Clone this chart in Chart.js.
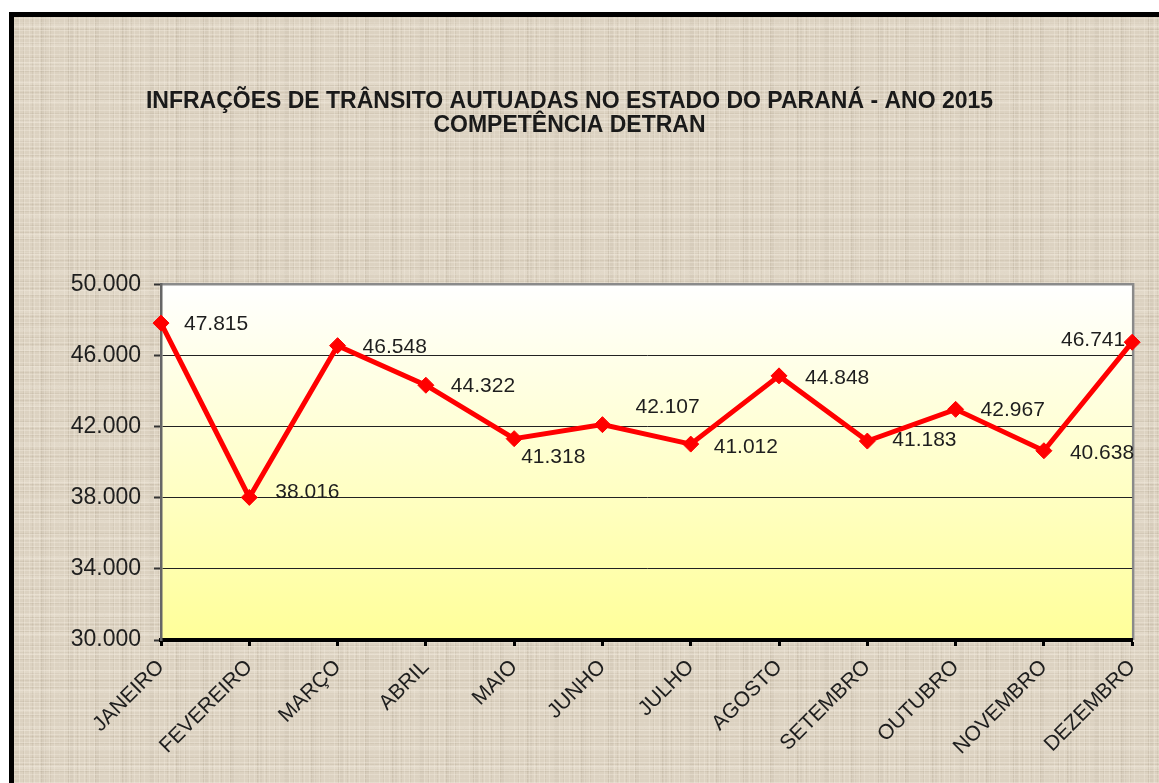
<!DOCTYPE html>
<html>
<head>
<meta charset="utf-8">
<script src="https://cdn.jsdelivr.net/npm/chart.js@4/dist/chart.umd.min.js"></script>
<style>
  html, body { margin: 0; padding: 0; background: #ffffff; width: 1159px; height: 783px; overflow: hidden; }
  #frame {
    position: absolute; left: 9px; top: 12px; width: 1170px; height: 800px;
    border: 5px solid #000; box-sizing: border-box;
    background-color: #dcd2c1;
    background-image:
      repeating-linear-gradient(0deg, rgba(245,238,226,0.35) 0 1px, transparent 1px 4px),
      repeating-linear-gradient(90deg, rgba(245,238,226,0.30) 0 1px, transparent 1px 5px),
      repeating-linear-gradient(0deg, rgba(150,135,110,0.12) 0 1px, transparent 1px 7px),
      repeating-linear-gradient(90deg, rgba(150,135,110,0.12) 0 1px, transparent 1px 9px),
      repeating-linear-gradient(0deg, rgba(255,250,240,0.16) 0 4px, transparent 4px 19px),
      repeating-linear-gradient(90deg, rgba(120,105,85,0.06) 0 5px, transparent 5px 27px);
  }
  #wrap { position: absolute; left: 0; top: 0; width: 1159px; height: 783px; }
</style>
</head>
<body>
<div id="frame"></div>
<div id="wrap"><canvas id="c" width="1159" height="783"></canvas></div>
<script>
const titleLines = ['INFRAÇÕES DE TRÂNSITO AUTUADAS NO ESTADO DO PARANÁ - ANO 2015', 'COMPETÊNCIA DETRAN'];
const months = ['JANEIRO', 'FEVEREIRO', 'MARÇO', 'ABRIL', 'MAIO', 'JUNHO', 'JULHO', 'AGOSTO', 'SETEMBRO', 'OUTUBRO', 'NOVEMBRO', 'DEZEMBRO'];
const infracoes = [47815, 38016, 46548, 44322, 41318, 42107, 41012, 44848, 41183, 42967, 40638, 46741];
const yTicks = [30000, 34000, 38000, 42000, 46000, 50000];

// label placement offsets (style only): [dx, dy, align]
const labelPlacement = [
  [23, 1, 'left'], [26, -5, 'left'], [25, 2, 'left'], [25, 1, 'left'],
  [7, 19, 'left'], [33, -17, 'left'], [23, 3, 'left'], [26, 2, 'left'],
  [25, -1, 'left'], [25, 1, 'left'], [26, 2, 'left'], [-7, -2, 'right']
];

const fmt = v => v.toLocaleString('de-DE', {minimumFractionDigits: 0});
const FONT = '"Liberation Sans", Arial, sans-serif';

const plotBg = {
  id: 'plotBg',
  beforeDraw(chart) {
    const {ctx, chartArea: a} = chart;
    ctx.save();
    const g = ctx.createLinearGradient(0, a.top, 0, a.bottom);
    g.addColorStop(0, '#ffffff');
    g.addColorStop(1, '#ffff99');
    ctx.fillStyle = g;
    ctx.fillRect(a.left, a.top, a.right - a.left, a.bottom - a.top);
    ctx.strokeStyle = '#8a8a8a';
    ctx.lineWidth = 2.5;
    ctx.beginPath();
    ctx.moveTo(a.left, a.top);
    ctx.lineTo(a.right + 1, a.top);
    ctx.lineTo(a.right + 1, a.bottom);
    ctx.stroke();
    ctx.restore();
  }
};

const dataLabels = {
  id: 'dataLabels',
  afterDatasetsDraw(chart) {
    const {ctx} = chart;
    const meta = chart.getDatasetMeta(0);
    ctx.save();
    ctx.font = '21px ' + FONT;
    ctx.fillStyle = '#1e1e1e';
    ctx.textBaseline = 'middle';
    meta.data.forEach((pt, i) => {
      const p = labelPlacement[i];
      ctx.textAlign = p[2];
      ctx.fillText(fmt(chart.data.datasets[0].data[i]), pt.x + p[0], pt.y + p[1]);
    });
    ctx.restore();
  }
};

new Chart(document.getElementById('c'), {
  type: 'line',
  data: {
    labels: months,
    datasets: [{
      data: infracoes,
      borderColor: '#ff0000',
      backgroundColor: '#ff0000',
      borderWidth: 5,
      tension: 0,
      pointStyle: 'rectRot',
      pointRadius: 8,
      pointBorderWidth: 1,
      pointBorderColor: '#ff0000',
      pointBackgroundColor: '#ff0000',
      clip: false
    }]
  },
  options: {
    responsive: false,
    animation: false,
    layout: { padding: { left: 5, right: 25, top: 0, bottom: 0 } },
    plugins: {
      legend: { display: false },
      tooltip: { enabled: false },
      title: {
        display: true,
        text: titleLines,
        color: '#1a1a1a',
        font: { family: FONT, size: 23, weight: 'bold', lineHeight: 1.07 },
        padding: { top: 89, bottom: 146 }
      }
    },
    scales: {
      x: {
        offset: false,
        afterFit(s) { s.height = 143; },
        grid: { display: true, drawOnChartArea: false, color: '#000', tickLength: 6, tickWidth: 3, tickColor: '#000' },
        border: { color: '#000', width: 4 },
        ticks: {
          autoSkip: false, maxRotation: 45, minRotation: 45, padding: 9,
          color: '#1e1e1e', font: { family: FONT, size: 21 }
        }
      },
      y: {
        min: 30000, max: 50000,
        afterFit(s) { s.width = 156; },
        afterBuildTicks(s) { s.ticks = yTicks.map(v => ({value: v})); },
        grid: {
          color: ctx => (ctx.tick && (ctx.tick.value === 50000 || ctx.tick.value === 30000)) ? 'rgba(0,0,0,0)' : '#222',
          lineWidth: 1,
          tickLength: 7,
          tickColor: '#333',
          tickWidth: 2
        },
        border: { color: '#666', width: 2.5 },
        ticks: {
          padding: 13,
          color: '#1e1e1e',
          font: { family: FONT, size: 23 },
          callback: v => fmt(v)
        }
      }
    }
  },
  plugins: [plotBg, dataLabels]
});
</script>
</body>
</html>
